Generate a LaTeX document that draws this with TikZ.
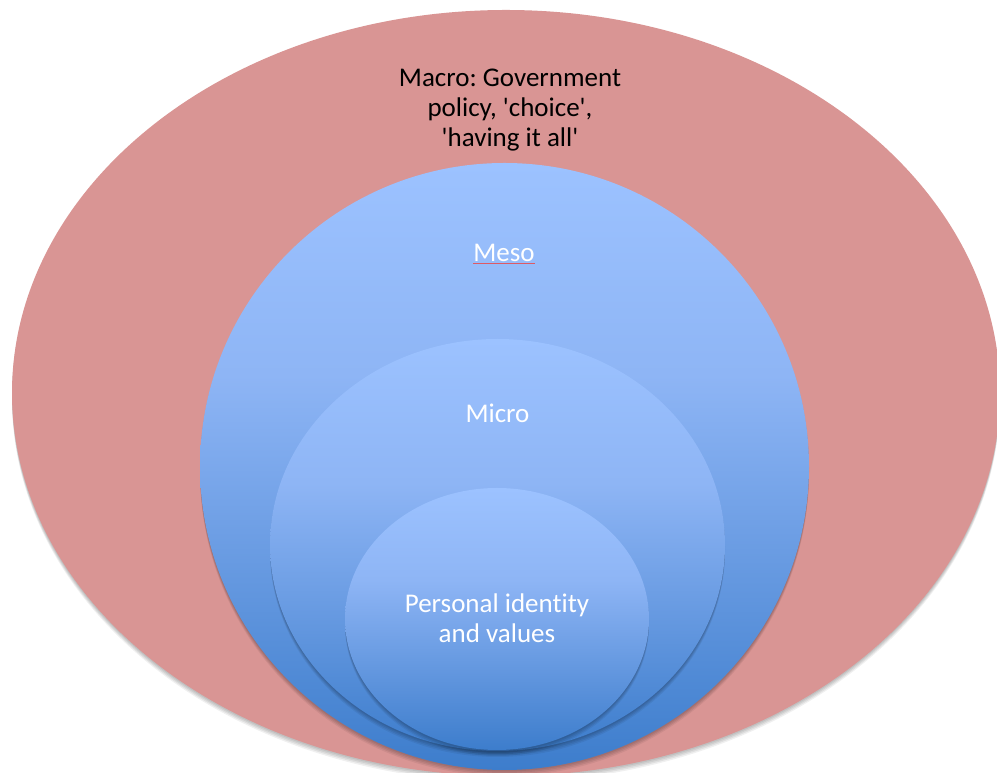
\documentclass[tikz,border=0pt]{standalone}
\usepackage{fontspec}
\setmainfont{Carlito}[Ligatures={TeXOff,NoCommon}]
\usetikzlibrary{shapes.geometric,shadows}
\definecolor{pinkfill}{RGB}{217,149,148}
\definecolor{blight}{RGB}{156,194,255}
\definecolor{bmid}{RGB}{142,181,245}
\definecolor{bdark}{RGB}{61,125,204}
\definecolor{squig}{RGB}{222,90,100}
\pgfdeclareverticalshading{bluegrad}{100bp}{color(0bp)=(bdark); color(25bp)=(bdark); color(57.5bp)=(bmid); color(75bp)=(blight); color(100bp)=(blight)}
\tikzset{
  softshadow/.style={
    general shadow={fill=black,opacity=0.07,shadow yshift=-1.5pt},
    general shadow={fill=black,opacity=0.07,shadow yshift=-3pt},
    general shadow={fill=black,opacity=0.07,shadow yshift=-4.5pt},
    general shadow={fill=black,opacity=0.06,shadow yshift=-6pt}},
  ring/.style={ellipse, inner sep=0pt, draw=none, softshadow},
  pinkring/.style={ring, fill=pinkfill},
  bluering/.style={ring, shading=bluegrad},
  lbl/.style={font=\fontsize{27}{30}\selectfont\frenchspacing, align=center, inner sep=0pt},
}
\begin{document}
\begin{tikzpicture}[x=1pt,y=1pt]
\useasboundingbox (0,0) rectangle (997,773);
\clip (0,0) rectangle (997,773);
\node[pinkring, minimum width=988pt, minimum height=766pt] (macro) at (506,380) {};
\node[bluering, minimum width=609pt, minimum height=607pt] (meso) at (504.5,306.5) {};
\node[bluering, minimum width=455pt, minimum height=412pt] (micro) at (497.5,228) {};
\node[bluering, minimum width=304pt, minimum height=262pt] (personal) at (497,154) {};
\node[lbl, text=black] (macrolbl) at (510,663) {Macro: Government\\policy, 'choice',\\'having it all'};
\node[lbl, text=white, anchor=base] (mesolbl) at (504,511) {Meso};
\draw[squig, line width=0.7pt] ([yshift=-1.5pt]mesolbl.base west) -- ([yshift=-1.5pt]mesolbl.base east);
\node[lbl, text=white, anchor=base] (microlbl) at (497.5,350) {Micro};
\node[lbl, text=white] (personallbl) at (497,155) {Personal identity\\and values};
\end{tikzpicture}
\end{document}
